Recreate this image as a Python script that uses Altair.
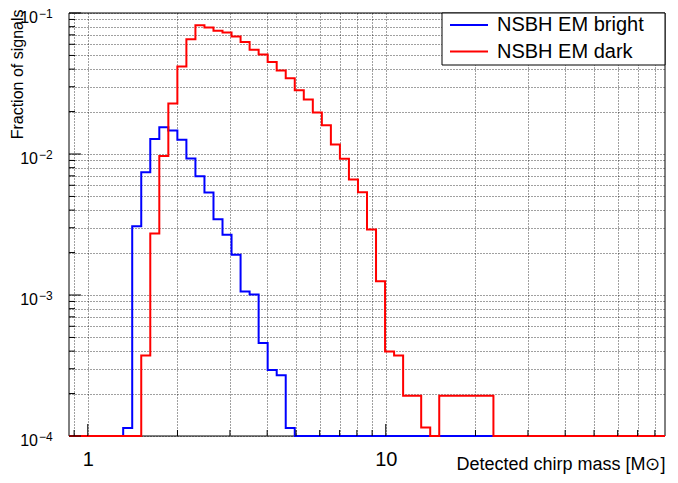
import altair as alt
import numpy as np
import pandas as pd

# ---- data ----
X_LO, X_HI, N_BINS = 0.865, 86.5, 66          # log-spaced histogram bins
Y_LO, Y_HI = 1e-4, 1e-1

series_names = ["NSBH EM bright", "NSBH EM dark"]
series_colors = ["#0000ff", "#ff0000"]

bright = ([0] * 6 +
          [1.14e-4, 3.07e-3, 7.43e-3, 1.28e-2, 1.55e-2, 1.47e-2, 1.26e-2, 9.3e-3,
           6.95e-3, 5.33e-3, 3.45e-3, 2.68e-3, 1.93e-3, 1.06e-3, 1.01e-3, 4.56e-4,
           2.94e-4, 2.70e-4, 1.14e-4] +
          [0] * 41)

dark = ([0] * 8 +
        [3.72e-4, 2.73e-3, 9.67e-3, 2.28e-2, 4.17e-2, 6.52e-2, 8.2e-2, 7.9e-2,
         7.48e-2, 7.28e-2, 6.82e-2, 6.24e-2, 5.48e-2, 5.08e-2, 4.5e-2, 3.91e-2,
         3.44e-2, 2.83e-2, 2.44e-2, 1.97e-2, 1.60e-2, 1.17e-2, 9.26e-3, 6.6e-3,
         5.36e-3, 2.91e-3, 1.25e-3, 3.97e-4, 3.72e-4, 1.93e-4, 1.93e-4, 1.15e-4] +
        [0] +
        [1.93e-4, 1.93e-4, 1.93e-4, 1.93e-4, 1.93e-4, 1.93e-4] +
        [0] * 19)

x_grid = [0.9, 1, 2, 3, 4, 5, 6, 7, 8, 9, 10, 20, 30, 40, 50, 60, 70, 80]
x_major = [1, 10]
y_grid = [float(f"{m}e{e}") for e in (-4, -3, -2) for m in range(1, 10)] + [0.1]
y_major = [1e-4, 1e-3, 1e-2, 1e-1]
y_label_base = ["10", "10", "10", "10"]
y_label_exp = ["\u22124", "\u22123", "\u22122", "\u22121"]

x_title = "Detected chirp mass [M\u2299]"
y_title = "Fraction of signals"

# ---- build tables ----
edges = np.geomspace(X_LO, X_HI, N_BINS + 1)


def hist_table(name, vals):
    rows = [{"series": name, "x": float(edges[k]), "y": max(v, Y_LO)} for k, v in enumerate(vals)]
    rows.append({"series": name, "x": float(edges[-1]), "y": max(vals[-1], Y_LO)})
    return pd.DataFrame(rows)


W, H = 596, 423
FONT = "Liberation Sans"
xs = alt.Scale(type="log", domain=[X_LO, X_HI], nice=False)
ys = alt.Scale(type="log", domain=[Y_LO, Y_HI], nice=False, clamp=True)

x_axis = alt.Axis(values=x_grid, labelExpr="datum.value == 1 || datum.value == 10 ? format(datum.value, 'd') : ''",
                  ticks=False, domain=False, grid=True, gridColor="#000", gridDash=[1, 2],
                  gridOpacity=0.75, labelFontSize=20, labelPadding=13, labelOverlap=False,
                  labelFlush=False, labelColor="#000", labelFont=FONT,
                  title=x_title, titleFont=FONT, titleFontSize=18, titleFontWeight="normal",
                  titleColor="#000", titleX=W, titleY=33, titleAlign="right",
                  titleBaseline="alphabetic", titleAnchor="end")
y_axis = alt.Axis(values=y_grid, labels=False, ticks=False, domain=False, grid=True,
                  gridColor="#000", gridDash=[1, 2], gridOpacity=0.75,
                  title=y_title, titleFont=FONT, titleFontSize=16, titleFontWeight="normal",
                  titleColor="#000", titleX=-60, titleY=-4, titleAngle=270, titleAlign="right",
                  titleBaseline="top", titleAnchor="end")


def X():
    return alt.X("x:Q", scale=xs, axis=x_axis)


def Y():
    return alt.Y("y:Q", scale=ys, axis=y_axis)


one = pd.DataFrame({"a": [0]})
layers = []

# frame (drawn below the histograms so their floor lines stay visible)
layers.append(alt.Chart(one).mark_rect(fillOpacity=0, stroke="black", strokeWidth=1).encode(
    x=alt.value(0), x2=alt.value(W), y=alt.value(0), y2=alt.value(H)))

for name, vals, col in zip(series_names, [bright, dark], series_colors):
    layers.append(alt.Chart(hist_table(name, vals)).mark_line(
        interpolate="step-after", color=col, strokeWidth=2, clip=False).encode(x=X(), y=Y()))

# inward tick marks (ROOT style)
x_minor = [v for v in x_grid if v not in x_major]
y_minor = [v for v in y_grid if v not in y_major]
for vals, length in ((x_major, 12), (x_minor, 6)):
    layers.append(alt.Chart(pd.DataFrame({"x": vals})).mark_rule(color="#000", strokeWidth=1).encode(
        x=X(), y=alt.value(H), y2=alt.value(H - length)))
for vals, length in ((y_major, 12), (y_minor, 6)):
    layers.append(alt.Chart(pd.DataFrame({"y": vals})).mark_rule(color="#000", strokeWidth=1).encode(
        y=Y(), x=alt.value(0), x2=alt.value(length)))

# y tick labels 10^n with a raised exponent
ylab = pd.DataFrame({"y": y_major, "base": y_label_base, "exp": y_label_exp})
layers.append(alt.Chart(ylab).mark_text(align="right", baseline="alphabetic", font=FONT, fontSize=16,
                                        color="#000", dy=10).encode(
    y=Y(), x=alt.value(-31), text="base:N"))
layers.append(alt.Chart(ylab).mark_text(align="left", baseline="alphabetic", font=FONT, fontSize=12,
                                        color="#000", dy=5).encode(
    y=Y(), x=alt.value(-30), text="exp:N"))

# legend box
layers.append(alt.Chart(one).mark_rect(fill="white", stroke="black", strokeWidth=1).encode(
    x=alt.value(373), x2=alt.value(W), y=alt.value(0), y2=alt.value(52)))
for i, (name, col) in enumerate(zip(series_names, series_colors)):
    yy = 12 + 26.5 * i
    layers.append(alt.Chart(one).mark_rule(color=col, strokeWidth=2).encode(
        x=alt.value(381), x2=alt.value(419), y=alt.value(yy)))
    layers.append(alt.Chart(pd.DataFrame({"name": [name]})).mark_text(
        align="left", baseline="middle", font=FONT, fontSize=20, color="#000").encode(
        x=alt.value(428), y=alt.value(yy), text="name:N"))

chart = alt.layer(*layers).properties(
    width=W, height=H,
    autosize=alt.AutoSizeParams(type="none"),
    padding={"left": 61, "top": 5, "right": 5, "bottom": 39},
    background="white",
).configure_view(strokeWidth=0)

chart.save("out.html", embed_options={"renderer": "svg", "actions": False})
